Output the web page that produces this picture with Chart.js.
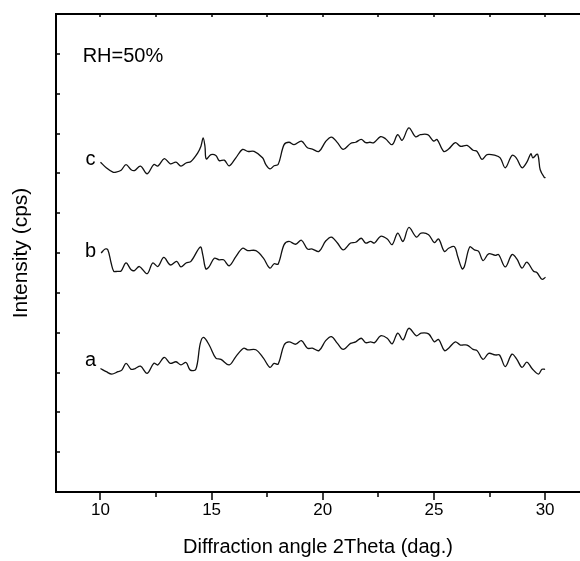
<!DOCTYPE html>
<html>
<head>
<meta charset="utf-8">
<script src="https://cdn.jsdelivr.net/npm/chart.js@4"></script>
<style>
  html, body { margin: 0; padding: 0; background: #fff; overflow: hidden; }
</style>
</head>
<body>
<canvas id="xrd" width="580" height="561"></canvas>
<script>
// --- data (2Theta in degrees, intensity in arbitrary cps, offsets included) ---
const xTicks = [10, 12.5, 15, 17.5, 20, 22.5, 25, 27.5, 30];
const yTicks = [100, 200, 300, 400, 500, 600, 700, 800, 900, 1000, 1100];

const thetaA = [10.00, 10.26, 10.51, 10.78, 10.96, 11.15, 11.38, 11.56, 11.80, 12.10, 12.40, 12.58, 12.87, 13.14, 13.40, 13.62, 13.85, 14.04, 14.29, 14.49, 14.64, 14.89, 15.19, 15.42, 15.79, 16.09, 16.44, 16.62, 16.99, 17.33, 17.62, 17.81, 17.99, 18.26, 18.48, 18.78, 19.04, 19.31, 19.53, 19.83, 20.13, 20.39, 20.66, 20.92, 21.25, 21.48, 21.73, 21.93, 22.15, 22.33, 22.60, 22.90, 23.12, 23.37, 23.61, 23.87, 24.21, 24.42, 24.76, 25.02, 25.21, 25.47, 25.66, 25.96, 26.19, 26.49, 26.76, 26.94, 27.21, 27.46, 27.76, 27.95, 28.21, 28.51, 28.73, 28.96, 29.18, 29.41, 29.70, 29.86, 30.00];
const intA = [310, 302, 296, 302, 306, 323, 308, 310, 316, 298, 323, 319, 338, 323, 327, 319, 325, 306, 308, 373, 388, 369, 336, 333, 319, 340, 361, 357, 357, 336, 313, 323, 321, 369, 377, 371, 380, 361, 361, 355, 380, 390, 373, 358, 373, 377, 386, 375, 377, 375, 392, 386, 372, 399, 382, 411, 392, 399, 397, 377, 383, 355, 361, 377, 369, 369, 358, 355, 333, 348, 344, 344, 315, 346, 333, 313, 326, 310, 296, 308, 308];

const thetaB = [10.03, 10.21, 10.33, 10.48, 10.60, 10.75, 10.93, 11.15, 11.38, 11.53, 11.75, 12.10, 12.35, 12.58, 12.85, 13.14, 13.43, 13.62, 13.85, 14.07, 14.49, 14.60, 14.74, 14.89, 15.12, 15.34, 15.54, 15.79, 16.09, 16.39, 16.62, 16.99, 17.33, 17.62, 17.81, 17.99, 18.26, 18.48, 18.78, 19.04, 19.31, 19.53, 19.83, 20.13, 20.39, 20.66, 20.92, 21.25, 21.48, 21.73, 21.93, 22.15, 22.33, 22.60, 22.90, 23.12, 23.37, 23.61, 23.87, 24.21, 24.42, 24.76, 25.02, 25.21, 25.47, 25.66, 25.92, 26.07, 26.27, 26.37, 26.61, 26.82, 27.01, 27.21, 27.46, 27.76, 27.91, 28.21, 28.51, 28.73, 28.96, 29.18, 29.48, 29.63, 29.86, 30.02];
const intB = [600, 610, 608, 575, 554, 554, 555, 575, 558, 556, 566, 548, 575, 566, 589, 570, 579, 565, 575, 579, 615, 596, 560, 566, 587, 583, 583, 568, 591, 612, 606, 606, 587, 562, 573, 572, 621, 629, 622, 632, 610, 610, 604, 630, 640, 625, 608, 625, 627, 637, 625, 629, 625, 642, 635, 621, 650, 629, 664, 640, 650, 646, 626, 635, 604, 612, 616, 591, 560, 566, 615, 608, 604, 581, 598, 594, 596, 565, 596, 585, 562, 577, 554, 551, 534, 539];

const thetaC = [10.00, 10.26, 10.56, 10.70, 10.93, 11.15, 11.38, 11.53, 11.80, 12.10, 12.40, 12.58, 12.87, 13.14, 13.40, 13.62, 13.85, 14.07, 14.37, 14.52, 14.62, 14.70, 14.76, 14.97, 15.19, 15.34, 15.57, 15.79, 16.09, 16.39, 16.62, 16.91, 17.29, 17.44, 17.63, 17.81, 17.99, 18.26, 18.48, 18.71, 19.04, 19.31, 19.53, 19.83, 20.13, 20.39, 20.66, 20.92, 21.25, 21.48, 21.73, 21.93, 22.12, 22.30, 22.60, 22.82, 23.12, 23.37, 23.57, 23.87, 24.17, 24.39, 24.72, 24.99, 25.14, 25.44, 25.66, 25.96, 26.19, 26.49, 26.76, 26.94, 27.16, 27.39, 27.76, 27.98, 28.21, 28.51, 28.70, 28.96, 29.18, 29.36, 29.45, 29.66, 29.78, 29.96, 30.02];
const intC = [828, 814, 803, 803, 808, 822, 809, 807, 818, 799, 822, 818, 837, 824, 828, 818, 826, 830, 851, 868, 889, 868, 836, 847, 845, 832, 833, 819, 839, 860, 855, 855, 839, 822, 811, 819, 822, 872, 878, 872, 881, 864, 861, 855, 880, 891, 877, 860, 875, 878, 885, 877, 878, 877, 892, 887, 872, 897, 883, 914, 892, 897, 897, 881, 885, 855, 861, 877, 868, 870, 858, 855, 835, 847, 845, 839, 814, 845, 839, 814, 828, 849, 839, 848, 809, 790, 789];

// trace labels placed beside the start of each curve
const traceNames = ['a', 'b', 'c'];
const traceLabelX = 9.55;
const traceLabelY = [329, 603, 835];
const noteText = 'RH=50%';
const noteX = 9.2;
const noteY = 1094;

const FONT = "'Liberation Sans', Arial, sans-serif";

const toPoints = (xs, ys) => xs.map((v, i) => ({ x: v, y: ys[i] }));

const lineStyle = {
    borderColor: '#111',
    borderWidth: 1.3,
    pointRadius: 0,
    tension: 0.35,
    fill: false
};

// frame, tick marks and the text labels inside the plot
const framePlugin = {
    id: 'frame',
    afterDraw(chart) {
        const { ctx, chartArea: a, scales: { x, y } } = chart;
        ctx.save();
        ctx.strokeStyle = '#000';
        ctx.lineWidth = 2;
        ctx.beginPath();
        ctx.moveTo(a.right, a.top);
        ctx.lineTo(a.left, a.top);
        ctx.lineTo(a.left, a.bottom);
        ctx.lineTo(a.right, a.bottom);
        ctx.stroke();

        ctx.lineWidth = 1.5;
        ctx.beginPath();
        xTicks.forEach(v => {
            const px = Math.round(x.getPixelForValue(v));
            const len = v % 5 === 0 ? 8 : 5;
            ctx.moveTo(px, a.bottom);
            ctx.lineTo(px, a.bottom + len);
            ctx.moveTo(px, a.top);
            ctx.lineTo(px, a.top + 3);
        });
        yTicks.forEach(v => {
            const py = Math.round(y.getPixelForValue(v));
            ctx.moveTo(a.left, py);
            ctx.lineTo(a.left + 4, py);
        });
        ctx.stroke();

        ctx.fillStyle = '#000';
        ctx.font = '20px ' + FONT;
        ctx.textBaseline = 'middle';
        ctx.textAlign = 'left';
        ctx.fillText(noteText, x.getPixelForValue(noteX), y.getPixelForValue(noteY));
        ctx.textAlign = 'center';
        traceNames.forEach((name, i) => {
            ctx.fillText(name, x.getPixelForValue(traceLabelX), y.getPixelForValue(traceLabelY[i]));
        });
        ctx.restore();
    }
};

document.addEventListener('DOMContentLoaded', () => {
    const ctx = document.getElementById('xrd').getContext('2d');
    new Chart(ctx, {
        type: 'line',
        data: {
            datasets: [
                { label: 'a', data: toPoints(thetaA, intA), ...lineStyle },
                { label: 'b', data: toPoints(thetaB, intB), ...lineStyle },
                { label: 'c', data: toPoints(thetaC, intC), ...lineStyle }
            ]
        },
        options: {
            responsive: false,
            animation: false,
            layout: { padding: { top: 14, right: 0, bottom: 0, left: 0 } },
            plugins: {
                legend: { display: false },
                tooltip: { enabled: false }
            },
            scales: {
                x: {
                    type: 'linear',
                    min: 8,
                    max: 31.57,
                    afterBuildTicks: scale => {
                        scale.ticks = xTicks.map(v => ({ value: v }));
                    },
                    afterFit: scale => { scale.height = 69; },
                    grid: { display: false, drawTicks: false },
                    border: { display: false },
                    ticks: {
                        padding: 8,
                        color: '#000',
                        font: { family: FONT, size: 17 },
                        maxRotation: 0,
                        autoSkip: false,
                        callback: v => (v % 5 === 0 ? String(v) : '')
                    },
                    title: {
                        display: true,
                        text: 'Diffraction angle 2Theta (dag.)',
                        color: '#000',
                        font: { family: FONT, size: 20 },
                        padding: { top: 0, bottom: 2 }
                    }
                },
                y: {
                    min: 0,
                    max: 1200,
                    afterFit: scale => { scale.width = 56; },
                    grid: { display: false, drawTicks: false },
                    border: { display: false },
                    ticks: { display: false },
                    title: {
                        display: true,
                        text: 'Intensity (cps)',
                        color: '#000',
                        font: { family: FONT, size: 21 },
                        padding: { top: 9, bottom: 0 }
                    }
                }
            }
        },
        plugins: [framePlugin]
    });
});
</script>
</body>
</html>
